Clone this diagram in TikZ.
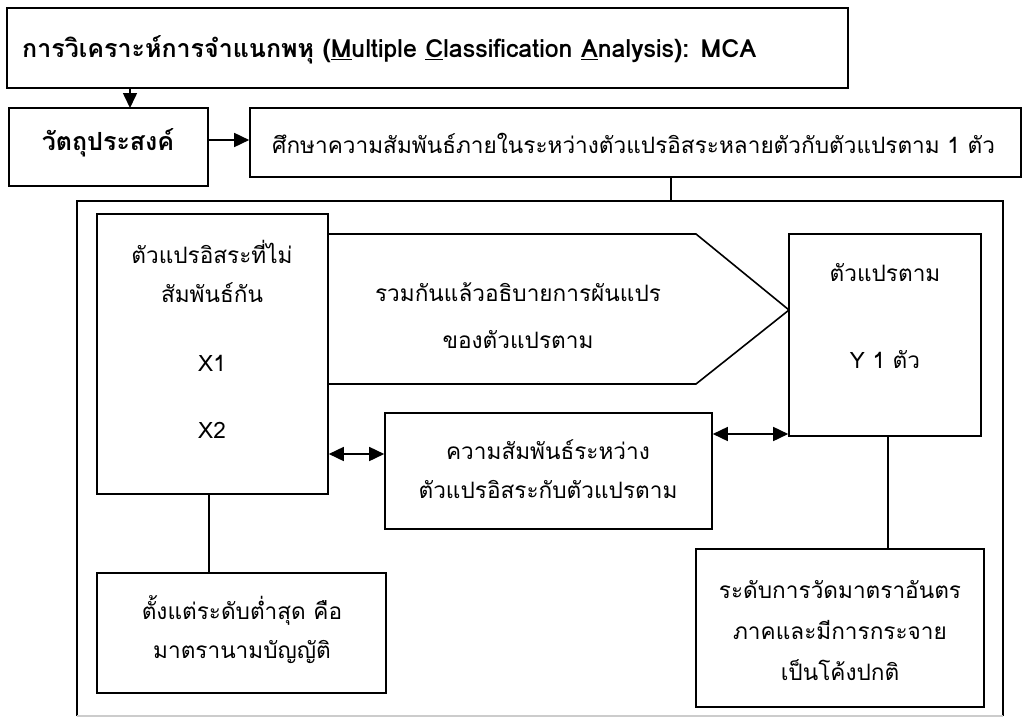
\documentclass[tikz,border=0pt]{standalone}
\usepackage{fontspec}
\setmainfont[Script=Thai]{Loma}
\usetikzlibrary{arrows.meta,fit}
\tikzset{
  box/.style={draw=black, line width=1.6pt, inner sep=0pt, fill=white},
  txt/.style={inner sep=0pt, font=\fontsize{22.6}{26}\selectfont, anchor=center},
  bold/.style={font=\fontsize{25}{28}\selectfont\bfseries},
  conn/.style={line width=1.6pt},
  arr/.style={line width=1.6pt, -{Triangle[length=15pt,width=14pt]}},
  darr/.style={line width=1.6pt, {Triangle[length=15pt,width=14pt]}-{Triangle[length=15pt,width=14pt]}},
}
\begin{document}
\begin{tikzpicture}[x=1pt,y=-1pt]
\useasboundingbox (0,0) rectangle (1025,717);
% outer frame
\draw[line width=1.6pt] (77,716) -- (77,201) -- (1003,201) -- (1003,716);
\draw[line width=1.2pt, black!20] (77,716) -- (1003,716);
\coordinate (frametop) at (671,201);
% top boxes
\node[box, fit={(7,8)(848,88)}] (title) {};
\node[txt, bold, anchor=west] (titletxt) at (22,50) {การวิเคราะห์การจำแนกพหุ (\underline{M}ultiple \underline{C}lassification \underline{A}nalysis): MCA};
\node[box, fit={(9,108)(208,186)}] (obj) {};
\node[txt, bold] (objtxt) at (108,143) {วัตถุประสงค์};
\node[box, fit={(250,108)(1021,177)}] (study) {};
\node[txt, anchor=west] (studytxt) at (272,143) {ศึกษาความสัมพันธ์ภายในระหว่างตัวแปรอิสระหลายตัวกับตัวแปรตาม 1 ตัว};
\draw[arr] (130,88) -- (130,108);
\draw[arr] (obj.east |- 0,140) -- (study.west |- 0,140);
\draw[conn] (671,177) -- (frametop);
% inner boxes
\node[box, fit={(97,214)(328,494)}] (indep) {};
\node[txt] at (212,252) {ตัวแปรอิสระที่ไม่};
\node[txt] at (212,293) {สัมพันธ์กัน};
\node[txt] at (212,363) {X1};
\node[txt] at (212,430) {X2};
% pentagon arrow
\coordinate (pa) at (328,234);
\coordinate (pb) at (696,234);
\coordinate (ptip) at (789,310);
\coordinate (pc) at (696,384);
\coordinate (pd) at (328,384);
\draw[line width=1.6pt, line join=miter] (pa) -- (pb) -- (ptip) -- (pc) -- (pd);
\node[txt] at (518,292) {รวมกันแล้วอธิบายการผันแปร};
\node[txt] at (518,340) {ของตัวแปรตาม};
\node[box, fit={(789,234)(981,436)}] (dep) {};
\node[txt] at (885,273) {ตัวแปรตาม};
\node[txt] at (885,360) {Y 1 ตัว};
\node[box, fit={(385,413)(712,529)}] (rel) {};
\node[txt] at (548,450) {ความสัมพันธ์ระหว่าง};
\node[txt] at (548,489) {ตัวแปรอิสระกับตัวแปรตาม};
\draw[darr] (indep.east |- 0,454) -- (rel.west |- 0,454);
\draw[darr] (rel.east |- 0,434) -- (dep.west |- 0,434);
\node[box, fit={(97,573)(386,693)}] (nominal) {};
\node[txt] at (242,610) {ตั้งแต่ระดับต่ำสุด คือ};
\node[txt] at (242,652) {มาตรานามบัญญัติ};
\node[box, fit={(696,549)(984,707)}] (interval) {};
\node[txt] at (840,590) {ระดับการวัดมาตราอันตร};
\node[txt] at (840,630) {ภาคและมีการกระจาย};
\node[txt] at (840,670) {เป็นโค้งปกติ};
\draw[conn] (indep.south -| 209,0) -- (nominal.north -| 209,0);
\draw[conn] (dep.south -| 888,0) -- (interval.north -| 888,0);
\end{tikzpicture}
\end{document}
